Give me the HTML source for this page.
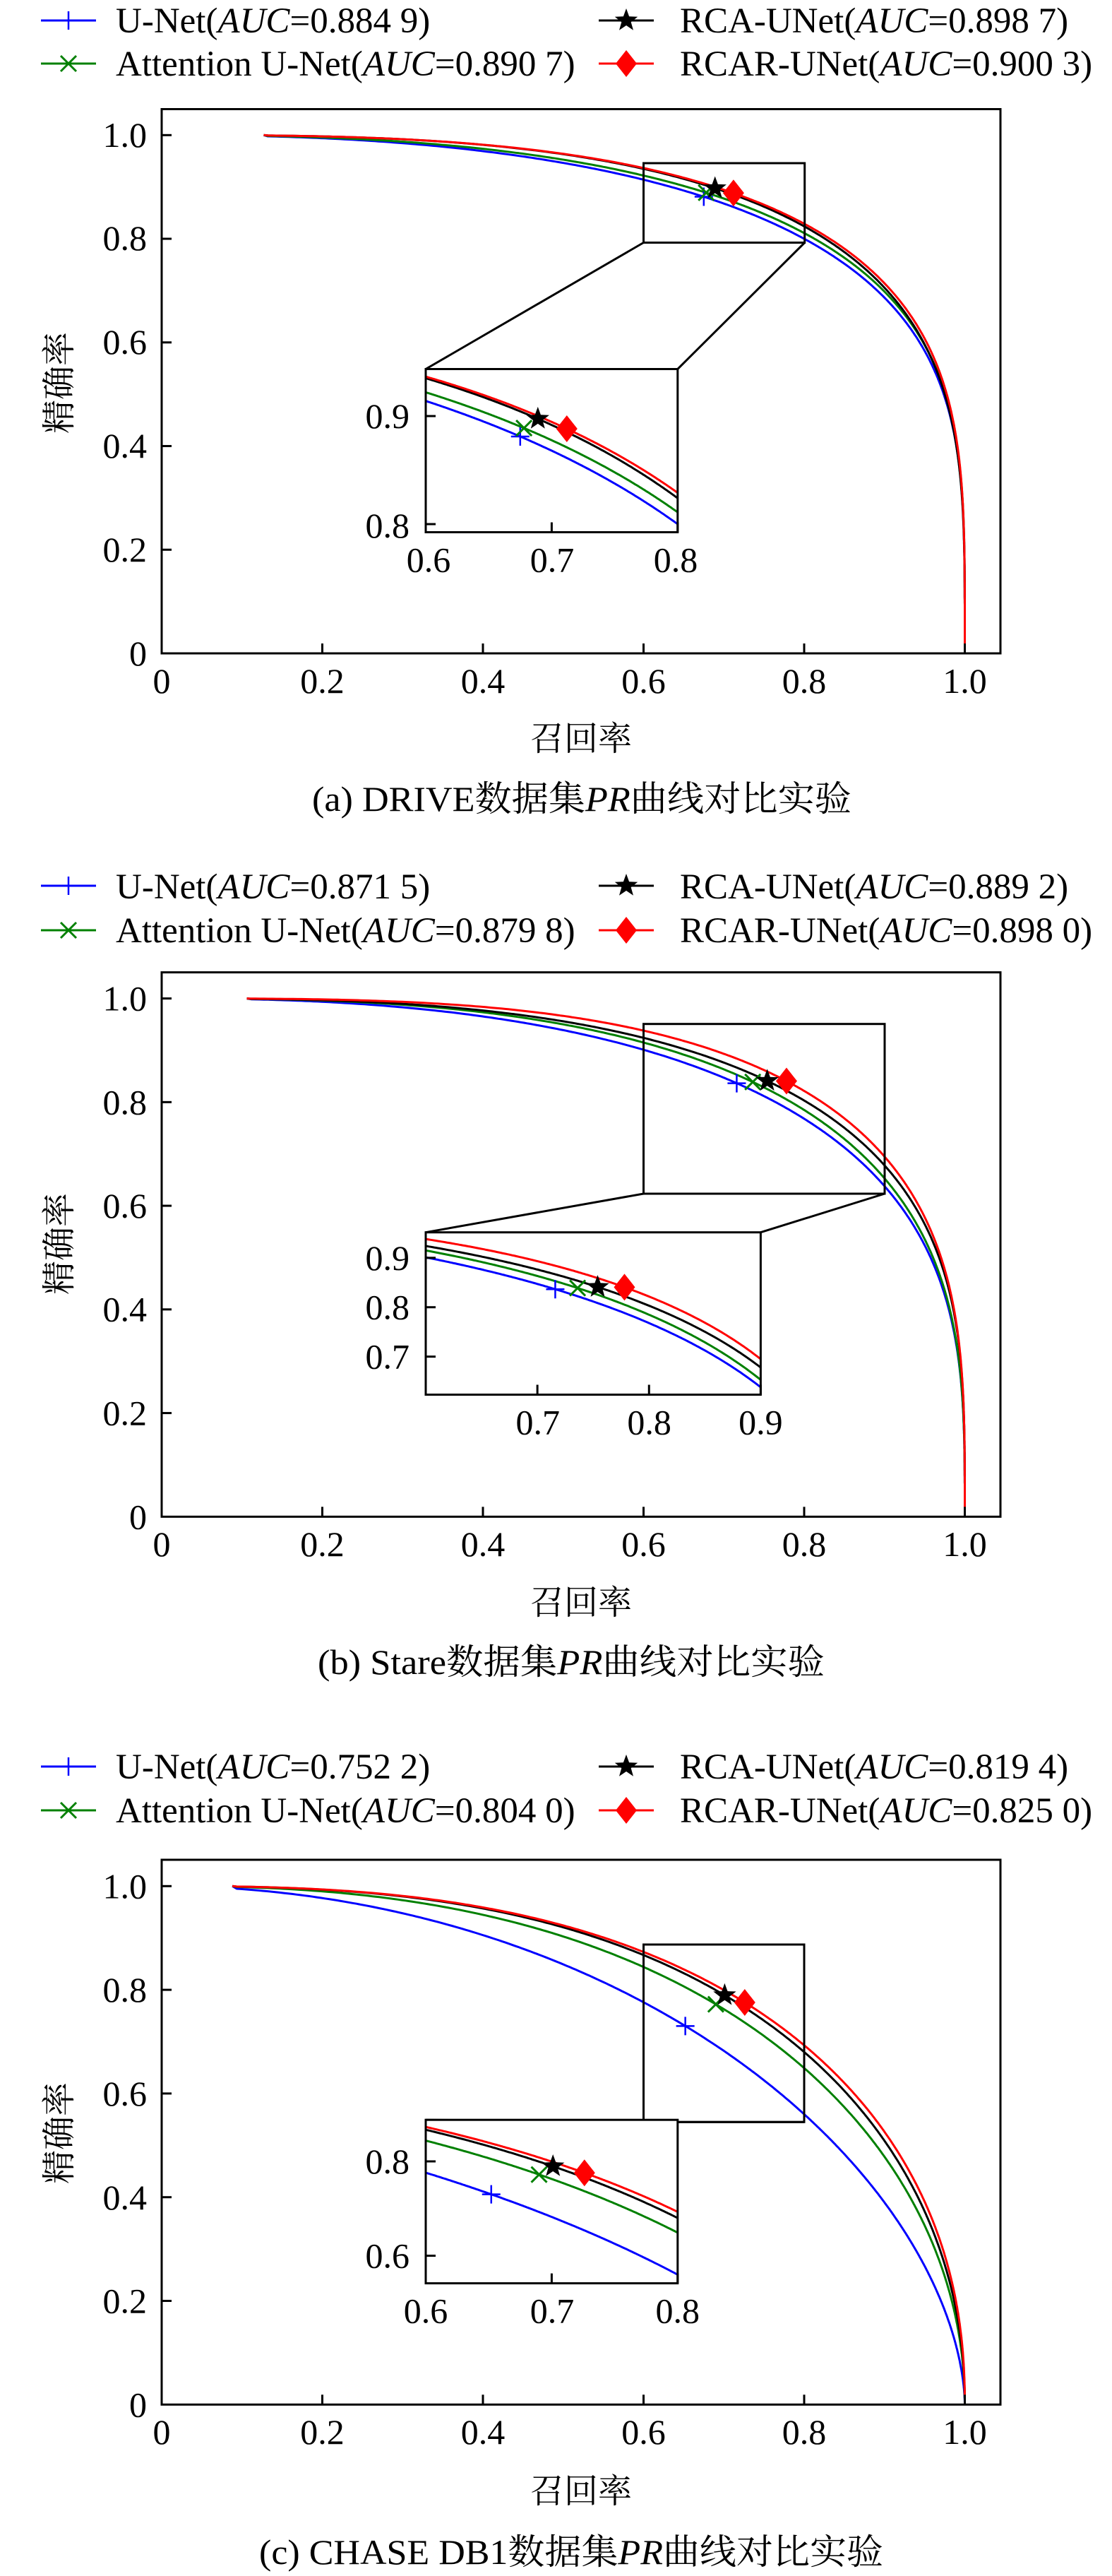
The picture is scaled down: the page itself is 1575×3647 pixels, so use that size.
<!DOCTYPE html>
<html><head><meta charset="utf-8"><style>
html,body{margin:0;padding:0;background:#fff}
svg{display:block}
text{font-family:"Liberation Serif","Noto Serif CJK SC",serif;fill:#000}
.t{font-size:50px}
.lg{font-size:51px}
.cj{font-family:"Noto Serif CJK SC","Liberation Serif",serif;font-size:48px}
.cap{font-size:50px}
</style></head><body>
<svg id="s" width="1575" height="3647" viewBox="0 0 1575 3647" xmlns="http://www.w3.org/2000/svg">
<rect width="1575" height="3647" fill="#fff"/>
<g id="plots"></g>

<!-- ===== Panel a ===== -->
<g class="lg">
<text x="164" y="46">U-Net(<tspan font-style="italic">AUC</tspan>=0.884 9)</text>
<text x="164" y="107">Attention U-Net(<tspan font-style="italic">AUC</tspan>=0.890 7)</text>
<text x="963" y="46">RCA-UNet(<tspan font-style="italic">AUC</tspan>=0.898 7)</text>
<text x="963" y="107">RCAR-UNet(<tspan font-style="italic">AUC</tspan>=0.900 3)</text>
</g>
<g class="t" text-anchor="end">
<text x="208" y="208">1.0</text><text x="208" y="354">0.8</text><text x="208" y="501">0.6</text>
<text x="208" y="648">0.4</text><text x="208" y="795">0.2</text><text x="208" y="942">0</text>
<text x="580" y="606">0.9</text><text x="580" y="761">0.8</text>
</g>
<g class="t" text-anchor="middle">
<text x="229" y="981">0</text><text x="456.5" y="981">0.2</text><text x="684" y="981">0.4</text>
<text x="911.5" y="981">0.6</text><text x="1139" y="981">0.8</text><text x="1366.5" y="981">1.0</text>
<text x="607" y="809.5">0.6</text><text x="782" y="809.5">0.7</text><text x="957" y="809.5">0.8</text>
</g>
<text class="cj" x="823" y="1062" text-anchor="middle">召回率</text>
<text class="cj" transform="translate(100,542) rotate(-90)" text-anchor="middle">精确率</text>
<text class="cap" x="824" y="1148" text-anchor="middle" textLength="764" lengthAdjust="spacingAndGlyphs">(a)  DRIVE数据集<tspan font-style="italic">PR</tspan>曲线对比实验</text>

<!-- ===== Panel b ===== -->
<g class="lg">
<text x="164" y="1272">U-Net(<tspan font-style="italic">AUC</tspan>=0.871 5)</text>
<text x="164" y="1334">Attention U-Net(<tspan font-style="italic">AUC</tspan>=0.879 8)</text>
<text x="963" y="1272">RCA-UNet(<tspan font-style="italic">AUC</tspan>=0.889 2)</text>
<text x="963" y="1334">RCAR-UNet(<tspan font-style="italic">AUC</tspan>=0.898 0)</text>
</g>
<g class="t" text-anchor="end">
<text x="208" y="1430.6">1.0</text><text x="208" y="1577.3">0.8</text><text x="208" y="1724">0.6</text>
<text x="208" y="1870.7">0.4</text><text x="208" y="2017.4">0.2</text><text x="208" y="2164.3">0</text>
<text x="580" y="1797.8">0.9</text><text x="580" y="1867.7">0.8</text><text x="580" y="1937.7">0.7</text>
</g>
<g class="t" text-anchor="middle">
<text x="229" y="2203">0</text><text x="456.5" y="2203">0.2</text><text x="684" y="2203">0.4</text>
<text x="911.5" y="2203">0.6</text><text x="1139" y="2203">0.8</text><text x="1366.5" y="2203">1.0</text>
<text x="761.8" y="2030.5">0.7</text><text x="919.6" y="2030.5">0.8</text><text x="1077.4" y="2030.5">0.9</text>
</g>
<text class="cj" x="823" y="2285" text-anchor="middle">召回率</text>
<text class="cj" transform="translate(100,1761) rotate(-90)" text-anchor="middle">精确率</text>
<text class="cap" x="809" y="2370" text-anchor="middle" textLength="718" lengthAdjust="spacingAndGlyphs">(b)  Stare数据集<tspan font-style="italic">PR</tspan>曲线对比实验</text>

<!-- ===== Panel c ===== -->
<g class="lg">
<text x="164" y="2518">U-Net(<tspan font-style="italic">AUC</tspan>=0.752 2)</text>
<text x="164" y="2580">Attention U-Net(<tspan font-style="italic">AUC</tspan>=0.804 0)</text>
<text x="963" y="2518">RCA-UNet(<tspan font-style="italic">AUC</tspan>=0.819 4)</text>
<text x="963" y="2580">RCAR-UNet(<tspan font-style="italic">AUC</tspan>=0.825 0)</text>
</g>
<g class="t" text-anchor="end">
<text x="208" y="2687.4">1.0</text><text x="208" y="2834.2">0.8</text><text x="208" y="2981">0.6</text>
<text x="208" y="3127.8">0.4</text><text x="208" y="3274.6">0.2</text><text x="208" y="3421.3">0</text>
<text x="580" y="3077">0.8</text><text x="580" y="3210.6">0.6</text>
</g>
<g class="t" text-anchor="middle">
<text x="229" y="3460">0</text><text x="456.5" y="3460">0.2</text><text x="684" y="3460">0.4</text>
<text x="911.5" y="3460">0.6</text><text x="1139" y="3460">0.8</text><text x="1366.5" y="3460">1.0</text>
<text x="603" y="3288.6">0.6</text><text x="782" y="3288.6">0.7</text><text x="959.8" y="3288.6">0.8</text>
</g>
<text class="cj" x="823" y="3543" text-anchor="middle">召回率</text>
<text class="cj" transform="translate(100,3020) rotate(-90)" text-anchor="middle">精确率</text>
<text class="cap" x="809" y="3630" text-anchor="middle" textLength="884" lengthAdjust="spacingAndGlyphs">(c)  CHASE DB1数据集<tspan font-style="italic">PR</tspan>曲线对比实验</text>
</svg>
<script>
(function(){
var NS="http://www.w3.org/2000/svg",root=document.getElementById("plots");
function el(t,a,p){var e=document.createElementNS(NS,t);for(var k in a)e.setAttribute(k,a[k]);(p||root).appendChild(e);return e;}
var COL=["#0000ff","#008000","#000000","#ff0000"];
function fit(r1,p1,r2,p2){var L=Math.log(p1)/Math.log(p2),lo=0.05,hi=50;
 function g(n){return Math.log(1-Math.pow(r1,n))/Math.log(1-Math.pow(r2,n))-L;}
 for(var i=0;i<80;i++){var m=(lo+hi)/2;if(g(m)>0)lo=m;else hi=m;}
 var n=(lo+hi)/2,mm=Math.log(1-Math.pow(r1,n))/Math.log(p1);
 return function(r){if(r>=1)return 0;return Math.pow(1-Math.pow(r,n),1/mm);};}
function marker(k,x,y,p){var c=COL[k];
 if(k==0){el("path",{d:"M"+(x-13)+" "+y+"h26M"+x+" "+(y-13)+"v26",stroke:c,"stroke-width":2.5,fill:"none"},p);}
 else if(k==1){el("path",{d:"M"+(x-11)+" "+(y-11)+"l22 22M"+(x-11)+" "+(y+11)+"l22 -22",stroke:c,"stroke-width":3,fill:"none"},p);}
 else if(k==2){var s="";for(var i=0;i<10;i++){var R=i%2?7:17,a=-Math.PI/2+i*Math.PI/5;s+=(i?"L":"M")+(x+R*Math.cos(a)).toFixed(1)+" "+(y+R*Math.sin(a)).toFixed(1);}el("path",{d:s+"Z",fill:c},p);}
 else {el("path",{d:"M"+x+" "+(y-19)+"L"+(x+15)+" "+y+"L"+x+" "+(y+19)+"L"+(x-15)+" "+y+"Z",fill:c},p);}
}
var panels=[
 {Y0:925,YH:733.7,top:154.5,r0:.127,leg:[29,90],
  ins:[603,522.5,959.8,753.5],ir:[.6,.8],ip:[.7925,.9435],zr:[911.5,231,1139.7,343.5],
  con:[[911.5,343.5,603,522.5],[1139.7,343.5,959.8,522.5]],r2:.8,
  tg:[[.914,.800],[.922,.811],[.935,.824],[.9365,.829]],mk:[.675,.678,.689,.712],
  iyt:[[.9],[.8]],ixt:[.6,.7,.8]},
 {Y0:2147.3,YH:733.7,top:1376.6,r0:.106,leg:[1254,1317],
  ins:[603,1744.7,1077.4,1974.5],ir:[.6,.9],ip:[.623,.9516],zr:[911.5,1449.7,1253,1690],
  con:[[911.5,1690,603,1744.7],[1253,1690,1077.4,1744.7]],r2:.9,
  tg:[[.901,.638],[.915,.653],[.924,.678],[.938,.695]],mk:[.716,.736,.754,.778],
  iyt:[[.9],[.8],[.7]],ixt:[.7,.8,.9]},
 {Y0:3404.3,YH:734,top:2633,r0:.088,leg:[2501,2563],
  ins:[603,3001.2,959.8,3232.6],ir:[.6,.8],ip:[.5416,.888],zr:[911.5,2753,1139,3004.3],
  con:[[911.5,3004.3,603,3001.2],[1139,3004.3,959.8,3004.3]],r2:.8,
  tg:[[.776,.560],[.844,.649],[.867,.680],[.873,.693]],mk:[.652,.690,.701,.726],
  iyt:[[.8],[.6]],ixt:[.6,.7,.8]}
];
panels.forEach(function(P,pi){
 var X=function(r){return 229+r*1137.5;},Y=function(p){return P.Y0-p*P.YH;};
 var b=P.ins,IX=function(r){return b[0]+(r-P.ir[0])/(P.ir[1]-P.ir[0])*(b[2]-b[0]);},
   IY=function(p){return b[3]-(p-P.ip[0])/(P.ip[1]-P.ip[0])*(b[3]-b[1]);};
 var fs=P.tg.map(function(t){return fit(.6,t[0],P.r2,t[1]);});
 for(var k=0;k<4;k++){var lx=k<2?58:848,ly=P.leg[k%2];
  el("line",{x1:lx,y1:ly,x2:lx+78,y2:ly,stroke:COL[k],"stroke-width":3});marker(k,lx+39,ly);}
 fs.forEach(function(f,k){var d="";
  for(var i=0;i<=500;i++){var t=i/500,r=P.r0+(1-P.r0)*(1-Math.pow(1-t,3)),p=f(r);
   if(i==0)p=1;d+=(i?"L":"M")+X(r).toFixed(1)+" "+Y(p).toFixed(1);}
  el("path",{d:d,stroke:COL[k],"stroke-width":3,fill:"none","stroke-linejoin":"round"});});
 fs.forEach(function(f,k){marker(k,X(P.mk[k]),Y(f(P.mk[k])));});
 var L=229,R=1417,T=P.top,B=P.Y0;
 el("rect",{x:L,y:T,width:R-L,height:B-T,fill:"none",stroke:"#000","stroke-width":3});
 for(var i=1;i<=5;i++){el("line",{x1:X(i*.2),y1:B,x2:X(i*.2),y2:B-14,stroke:"#000","stroke-width":3});
  el("line",{x1:L,y1:Y(i*.2),x2:L+14,y2:Y(i*.2),stroke:"#000","stroke-width":3});}
 var z=P.zr;el("rect",{x:z[0],y:z[1],width:z[2]-z[0],height:z[3]-z[1],fill:"none",stroke:"#000","stroke-width":3});
 P.con.forEach(function(c){el("line",{x1:c[0],y1:c[1],x2:c[2],y2:c[3],stroke:"#000","stroke-width":3});});
 el("rect",{x:b[0],y:b[1],width:b[2]-b[0],height:b[3]-b[1],fill:"#fff",stroke:"none"});
 var cp=el("clipPath",{id:"cp"+pi});el("rect",{x:b[0],y:b[1],width:b[2]-b[0],height:b[3]-b[1]},cp);
 var g=el("g",{"clip-path":"url(#cp"+pi+")"});
 fs.forEach(function(f,k){var d="";
  for(var i=0;i<=200;i++){var r=P.ir[0]-.01+(P.ir[1]-P.ir[0]+.02)*i/200;d+=(i?"L":"M")+IX(r).toFixed(1)+" "+IY(f(r)).toFixed(1);}
  el("path",{d:d,stroke:COL[k],"stroke-width":3,fill:"none"},g);});
 fs.forEach(function(f,k){marker(k,IX(P.mk[k]),IY(f(P.mk[k])),g);});
 el("rect",{x:b[0],y:b[1],width:b[2]-b[0],height:b[3]-b[1],fill:"none",stroke:"#000","stroke-width":3});
 P.iyt.forEach(function(v){el("line",{x1:b[0],y1:IY(v[0]),x2:b[0]+14,y2:IY(v[0]),stroke:"#000","stroke-width":3});});
 P.ixt.forEach(function(v){el("line",{x1:IX(v),y1:b[3],x2:IX(v),y2:b[3]-14,stroke:"#000","stroke-width":3});});
});
})();
</script>
</body></html>
